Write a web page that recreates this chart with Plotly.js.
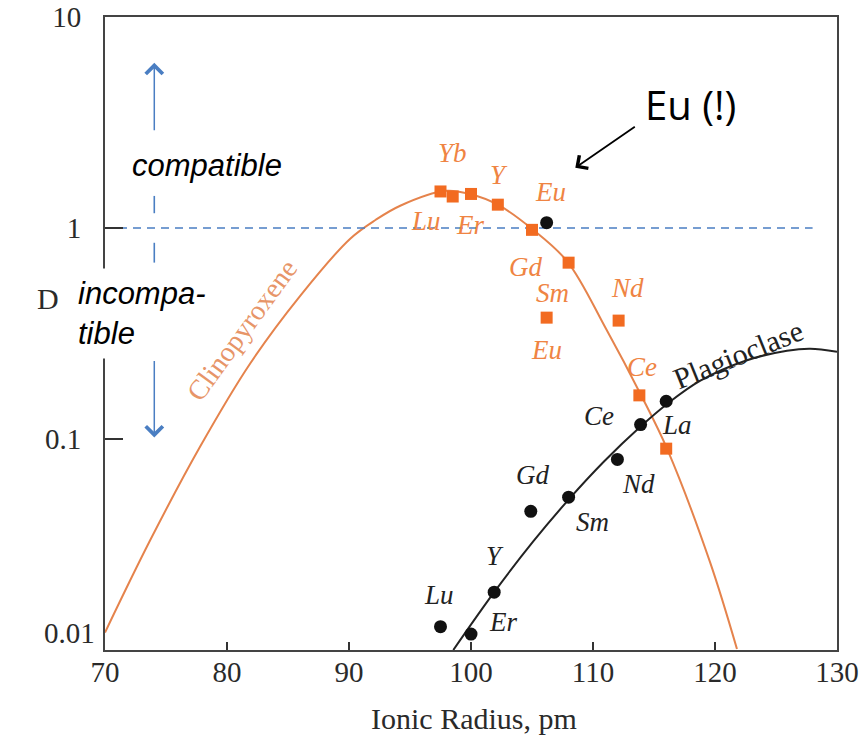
<!DOCTYPE html>
<html>
<head>
<meta charset="utf-8">
<script src="https://cdn.plot.ly/plotly-3.0.1.min.js"></script>
<style>html,body{margin:0;padding:0;background:#fff;}#chart{width:866px;height:739px;}</style>
</head>
<body>
<div id="chart"></div>
<script>
// ---- Data ----
const cpxElements = ['Lu', 'Yb', 'Er', 'Y', 'Gd', 'Eu', 'Sm', 'Nd', 'Ce', 'La'];
const cpxRadius   = [97.5, 98.5, 100.0, 102.2, 105.0, 106.2, 108.0, 112.1, 113.8, 116.0];
const cpxD        = [1.49, 1.41, 1.45, 1.29, 0.98, 0.376, 0.685, 0.364, 0.161, 0.090];

const plagElements = ['Lu', 'Er', 'Y', 'Gd', 'Eu', 'Sm', 'Nd', 'Ce', 'La'];
const plagRadius   = [97.5, 100.0, 101.9, 104.9, 106.2, 108.0, 112.0, 113.9, 116.0];
const plagD        = [0.0129, 0.0119, 0.0188, 0.0454, 1.06, 0.0530, 0.080, 0.117, 0.151];

const cpxCurveX = [70.0, 73.7, 77.8, 81.9, 86.0, 90.1, 92.2, 94.2, 97.9, 99.9, 102.2, 105.1, 107.9, 111.1, 113.9, 116.1, 119.6, 121.8];
const cpxCurveD = [0.0121, 0.0331, 0.0921, 0.228, 0.477, 0.890, 1.094, 1.275, 1.50, 1.45, 1.29, 0.98, 0.693, 0.330, 0.163, 0.0891, 0.0260, 0.0101];

const plagCurveX = [98.55, 101.9, 105.1, 108.0, 110.9, 113.9, 116.1, 118.8, 122.5, 125.9, 127.8, 130.0];
const plagCurveD = [0.0100, 0.0188, 0.0327, 0.0516, 0.0782, 0.1146, 0.147, 0.189, 0.235, 0.262, 0.268, 0.259];

const xTicks = [70, 80, 90, 100, 110, 120, 130];
const yTicks = [0.01, 0.1, 1, 10];
const yTickText = ['0.01', '0.1', '1', '10'];
const thresholdD = 1;

// ---- Styling (label offsets in pixels) ----
const ORANGE = '#F26B21';
const ORANGE_LABEL = '#EF8443';
const ORANGE_CURVE = '#E5834C';
const BLUE = '#4A7EC2';
const cpxLabelOffset = {
  Lu: [-15, 30], Yb: [0, -44], Er: [-1, 31], Y: [1, -30], Gd: [-7, 37],
  Eu: [0, 32], Sm: [-16, 30], Nd: [9, -33], Ce: [3, -28]
};
const plagLabelOffset = {
  Eu: [4, -31], La: [11, 24], Ce: [-42, -9], Nd: [21, 25], Sm: [24, 25],
  Gd: [2, -36], Y: [1, -36], Lu: [-2, -32], Er: [32, -12]
};

const serif = 'Liberation Serif, Times New Roman, serif';
const labelFont = (c) => ({family: serif, size: 27, color: c, style: 'italic'});

const traces = [
  {x: cpxCurveX, y: cpxCurveD, mode: 'lines', line: {color: ORANGE_CURVE, width: 2, shape: 'spline', smoothing: 1}, hoverinfo: 'skip'},
  {x: plagCurveX, y: plagCurveD, mode: 'lines', line: {color: '#222', width: 2, shape: 'spline', smoothing: 1}, hoverinfo: 'skip'},
  {x: [xTicks[0], 128], y: [thresholdD, thresholdD], mode: 'lines', line: {color: BLUE, width: 1.6, dash: '8px,6px'}, hoverinfo: 'skip'},
  {x: [74.04, 74.04], y: [Math.pow(10, 0.152), Math.pow(10, 0.07)], mode: 'lines', line: {color: BLUE, width: 1.6}, hoverinfo: 'skip'},
  {x: [74.04, 74.04], y: [Math.pow(10, -0.07), Math.pow(10, -0.164)], mode: 'lines', line: {color: BLUE, width: 1.6}, hoverinfo: 'skip'},
  {x: cpxRadius, y: cpxD, mode: 'markers', marker: {symbol: 'square', size: 12, color: ORANGE}, text: cpxElements, name: 'Clinopyroxene'},
  {x: plagRadius, y: plagD, mode: 'markers', marker: {symbol: 'circle', size: 13, color: '#111'}, text: plagElements, name: 'Plagioclase'}
];

const annotations = [];
cpxElements.forEach((el, i) => {
  const off = cpxLabelOffset[el];
  if (!off) return;
  annotations.push({x: cpxRadius[i], y: Math.log10(cpxD[i]), xref: 'x', yref: 'y', text: el, showarrow: false,
    xshift: off[0], yshift: -off[1], font: labelFont(ORANGE_LABEL)});
});
plagElements.forEach((el, i) => {
  const off = plagLabelOffset[el];
  if (!off) return;
  annotations.push({x: plagRadius[i], y: Math.log10(plagD[i]), xref: 'x', yref: 'y', text: el, showarrow: false,
    xshift: off[0], yshift: -off[1], font: labelFont(el === 'Eu' ? ORANGE_LABEL : '#222')});
});

// curve names
annotations.push({x: 81.2, y: (228.3 - 331) / 211.2, xref: 'x', yref: 'y', text: 'Clinopyroxene', showarrow: false,
  textangle: -54, font: {family: serif, size: 28, color: '#E79568'}});
annotations.push({x: 121.9, y: (228.3 - 355) / 211.2, xref: 'x', yref: 'y', text: 'Plagioclase', showarrow: false,
  textangle: -22, font: {family: serif, size: 30, color: '#222'}});

// compatible / incompatible
annotations.push({x: 78.36, y: (228.3 - 166) / 211.2, xref: 'x', yref: 'y', text: 'compatible', showarrow: false,
  font: {family: 'Liberation Sans, Arial, sans-serif', size: 31, color: '#000', style: 'italic'}});
annotations.push({x: (70 - 105) / 732, y: (650 - 313) / 633, xref: 'paper', yref: 'paper', xanchor: 'left', yanchor: 'middle',
  text: 'incompa-<br>tible', align: 'left', showarrow: false, bgcolor: '#fff', borderpad: 7,
  font: {family: 'Liberation Sans, Arial, sans-serif', size: 31, color: '#000', style: 'italic'}});

// blue arrows
annotations.push({x: 74.04, y: 0.783, xref: 'x', yref: 'y', ax: 0, ay: 69, text: '', showarrow: true,
  arrowhead: 4, arrowsize: 2.2, arrowwidth: 1.5, arrowcolor: BLUE});
annotations.push({x: 74.04, y: -0.993, xref: 'x', yref: 'y', ax: 0, ay: -78, text: '', showarrow: true,
  arrowhead: 4, arrowsize: 2.2, arrowwidth: 1.5, arrowcolor: BLUE});

// Eu (!) callout
annotations.push({x: 108.55, y: 0.2855, xref: 'x', yref: 'y', ax: 61, ay: -42, text: '', showarrow: true,
  arrowhead: 4, arrowsize: 1.7, arrowwidth: 1.8, arrowcolor: '#000'});
annotations.push({x: 117.98, y: 0.584, xref: 'x', yref: 'y', text: 'Eu (!)', showarrow: false,
  font: {family: 'Open Sans, Liberation Sans, sans-serif', size: 40, color: '#000'}});

// lowest y tick label, set apart from the corner as in the reference
annotations.push({x: (42 - 105) / 732, y: (650 - 633) / 633, xref: 'paper', yref: 'paper', yanchor: 'middle', text: yTickText[0], showarrow: false,
  font: {family: serif, size: 29, color: '#2a2a2a'}});

// axis titles
annotations.push({x: (35 - 105) / 732, y: (650 - 298) / 633, xref: 'paper', yref: 'paper', yanchor: 'middle', text: 'D', showarrow: false,
  font: {family: serif, size: 30, color: '#2a2a2a'}});
annotations.push({x: (474 - 105) / 732, y: (650 - 718) / 633, xref: 'paper', yref: 'paper', yanchor: 'middle', text: 'Ionic Radius, pm', showarrow: false,
  font: {family: serif, size: 30, color: '#2a2a2a'}});

const layout = {
  width: 866, height: 739,
  margin: {l: 105, r: 29, t: 17, b: 89},
  paper_bgcolor: '#fff', plot_bgcolor: '#fff',
  showlegend: false,
  xaxis: {range: [70, 130], tickvals: xTicks, ticks: 'inside', ticklen: 8, tickwidth: 1.5, tickcolor: '#333',
    showline: true, mirror: true, linecolor: '#444', linewidth: 2, showgrid: false, zeroline: false,
    tickfont: {family: serif, size: 29, color: '#2a2a2a'}, ticklabelstandoff: -5},
  yaxis: {type: 'log', range: [-2, 1], tickvals: yTicks, ticktext: ['', yTickText[1], yTickText[2], yTickText[3]],
    ticks: 'inside', ticklen: 18, tickwidth: 1.5, tickcolor: '#333',
    showline: true, mirror: true, linecolor: '#444', linewidth: 2, showgrid: false, zeroline: false,
    tickfont: {family: serif, size: 29, color: '#2a2a2a'}, ticklabelstandoff: 16},
  annotations: annotations
};

Plotly.newPlot('chart', traces, layout, {displayModeBar: false, staticPlot: true});
</script>
</body>
</html>
